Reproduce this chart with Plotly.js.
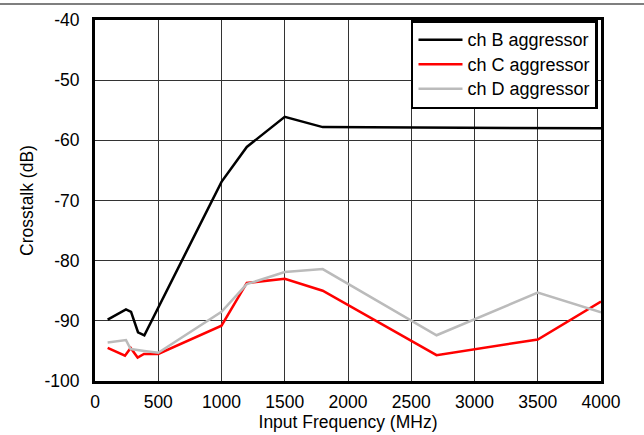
<!DOCTYPE html>
<html>
<head>
<meta charset="utf-8">
<script src="https://cdn.plot.ly/plotly-3.0.1.min.js"></script>
<style>html,body{margin:0;padding:0;background:#fff;}#chart{width:644px;height:435px;}</style>
</head>
<body>
<div id="chart"></div>
<script>
var freqB = [100, 245, 285, 340, 390, 500, 1000, 1200, 1500, 1800, 2700, 3500, 4000];
var chB = [-89.8, -88.1, -88.5, -91.9, -92.4, -87.8, -66.9, -61.1, -56.1, -57.8, -57.9, -58.0, -58.0];
var freqC = [100, 237, 282, 337, 387, 500, 1000, 1200, 1500, 1800, 2700, 3500, 4000];
var chC = [-94.5, -95.8, -94.5, -96.1, -95.5, -95.5, -90.8, -83.7, -83.0, -85.0, -95.7, -93.1, -86.8];
var freqD = [100, 245, 282, 340, 390, 500, 1000, 1200, 1500, 1800, 2700, 3500, 4000];
var chD = [-93.6, -93.2, -94.7, -94.9, -95.0, -95.3, -88.5, -83.9, -81.9, -81.4, -92.4, -85.3, -88.6];
var names = ['ch B aggressor', 'ch C aggressor', 'ch D aggressor'];
var xTicks = [0, 500, 1000, 1500, 2000, 2500, 3000, 3500, 4000];
var yTicks = [-100, -90, -80, -70, -60, -50, -40];

var fontFam = 'Liberation Sans, Arial, sans-serif';
function legName(s) { return '<span style="font-size:18px">' + s + '</span>'; }
var data = [
  {x: freqB, y: chB, name: legName(names[0]), mode: 'lines', line: {color: '#000000', width: 2.5}},
  {x: freqC, y: chC, name: legName(names[1]), mode: 'lines', line: {color: '#ff0000', width: 2.5}},
  {x: freqD, y: chD, name: legName(names[2]), mode: 'lines', line: {color: '#bbbbbb', width: 2.5}}
];
var layout = {
  width: 644, height: 435,
  margin: {l: 95, r: 43, t: 20, b: 54},
  paper_bgcolor: '#ffffff', plot_bgcolor: '#ffffff',
  font: {family: fontFam, size: 17, color: '#000'},
  showlegend: true,
  legend: {
    x: 0.6245, y: 1, xanchor: 'left', yanchor: 'top',
    bgcolor: '#ffffff', bordercolor: '#000000', borderwidth: 2.5,
    font: {family: fontFam, size: 16.5, color: '#000'},
    tracegroupgap: 0, itemwidth: 44
  },
  xaxis: {
    range: [0, 4000], tickvals: xTicks, ticktext: xTicks.map(String),
    showgrid: true, gridcolor: '#333333', gridwidth: 1,
    showline: true, linecolor: '#000', linewidth: 3, mirror: true,
    zeroline: false, ticks: '', ticklabelstandoff: 3,
    tickfont: {family: fontFam, size: 17.5, color: '#000'},
    title: {text: 'Input Frequency (MHz)', font: {family: fontFam, size: 17.5, color: '#000'}, standoff: 2}
  },
  yaxis: {
    range: [-100, -40], tickvals: yTicks, ticktext: yTicks.map(String),
    showgrid: true, gridcolor: '#333333', gridwidth: 1,
    showline: true, linecolor: '#000', linewidth: 3, mirror: true,
    zeroline: false, ticks: '', ticklabelstandoff: 9,
    tickfont: {family: fontFam, size: 17.5, color: '#000'},
    title: {text: 'Crosstalk (dB)', font: {family: fontFam, size: 17.5, color: '#000'}, standoff: 7}
  },
  shapes: [{
    type: 'line', xref: 'paper', yref: 'paper',
    x0: -95/506, x1: 1 + 43/506, y0: 1 + 16/361, y1: 1 + 16/361,
    line: {color: '#555555', width: 1.5}
  }]
};
Plotly.newPlot('chart', data, layout, {displayModeBar: false, staticPlot: true});
</script>
</body>
</html>
